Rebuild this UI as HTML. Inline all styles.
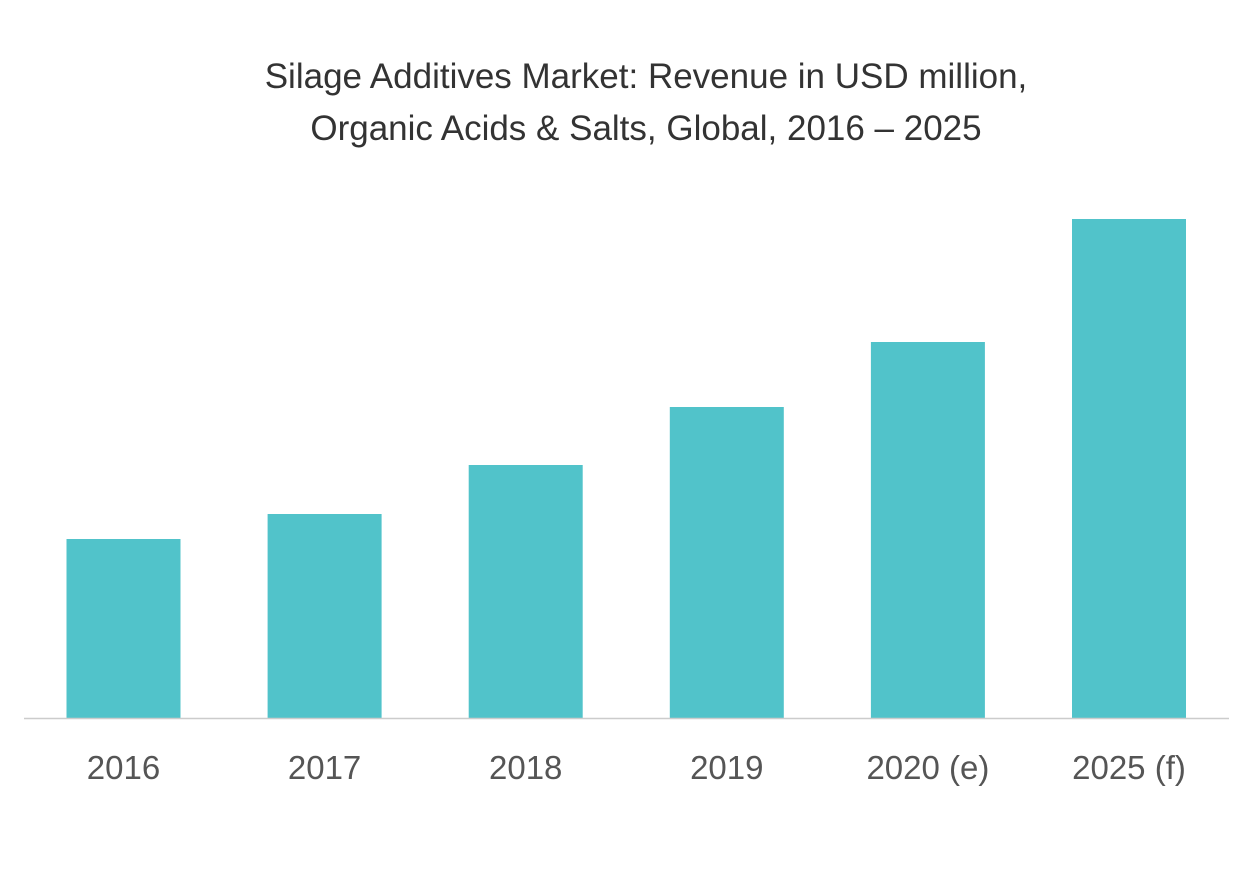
<!DOCTYPE html>
<html><head><meta charset="utf-8"><style>
html,body{margin:0;padding:0;background:#fff;}
svg{display:block;font-family:"Liberation Sans",sans-serif;}
</style></head><body>
<svg id="chart" width="1253" height="878">
<text x="646" y="88" text-anchor="middle" font-size="35" fill="#333">Silage Additives Market: Revenue in USD million,</text>
<text x="646" y="140" text-anchor="middle" font-size="35" fill="#333">Organic Acids &amp; Salts, Global, 2016 – 2025</text>
<g id="bars"></g>
<line x1="24" y1="718.5" x2="1229" y2="718.5" stroke="#ccc" stroke-width="1.5"/>
<g id="labels"></g>
</svg>
<script>
const categories = ["2016","2017","2018","2019","2020 (e)","2025 (f)"];
const values = [179, 204, 253, 311, 376, 499];
const baseY = 718, plotH = 499, maxV = 499;
const firstCenter = 123.5, step = 201.1, barW = 114;
function xScale(i){ return firstCenter + i*step; }
function yScale(v){ return baseY - v/maxV*plotH; }
const ns = "http://www.w3.org/2000/svg";
const bars = document.getElementById('bars'), labels = document.getElementById('labels');
categories.forEach((c,i)=>{
  const r = document.createElementNS(ns,'rect');
  r.setAttribute('x', xScale(i)-barW/2);
  r.setAttribute('y', yScale(values[i]));
  r.setAttribute('width', barW);
  r.setAttribute('height', baseY - yScale(values[i]));
  r.setAttribute('fill', '#51c3ca');
  
  
  bars.appendChild(r);
  const t = document.createElementNS(ns,'text');
  t.setAttribute('x', xScale(i));
  t.setAttribute('y', 779);
  t.setAttribute('text-anchor', 'middle');
  t.setAttribute('font-size', '33');
  t.setAttribute('fill', '#555');
  t.textContent = c;
  
  
  labels.appendChild(t);
});
</script>
</body></html>
